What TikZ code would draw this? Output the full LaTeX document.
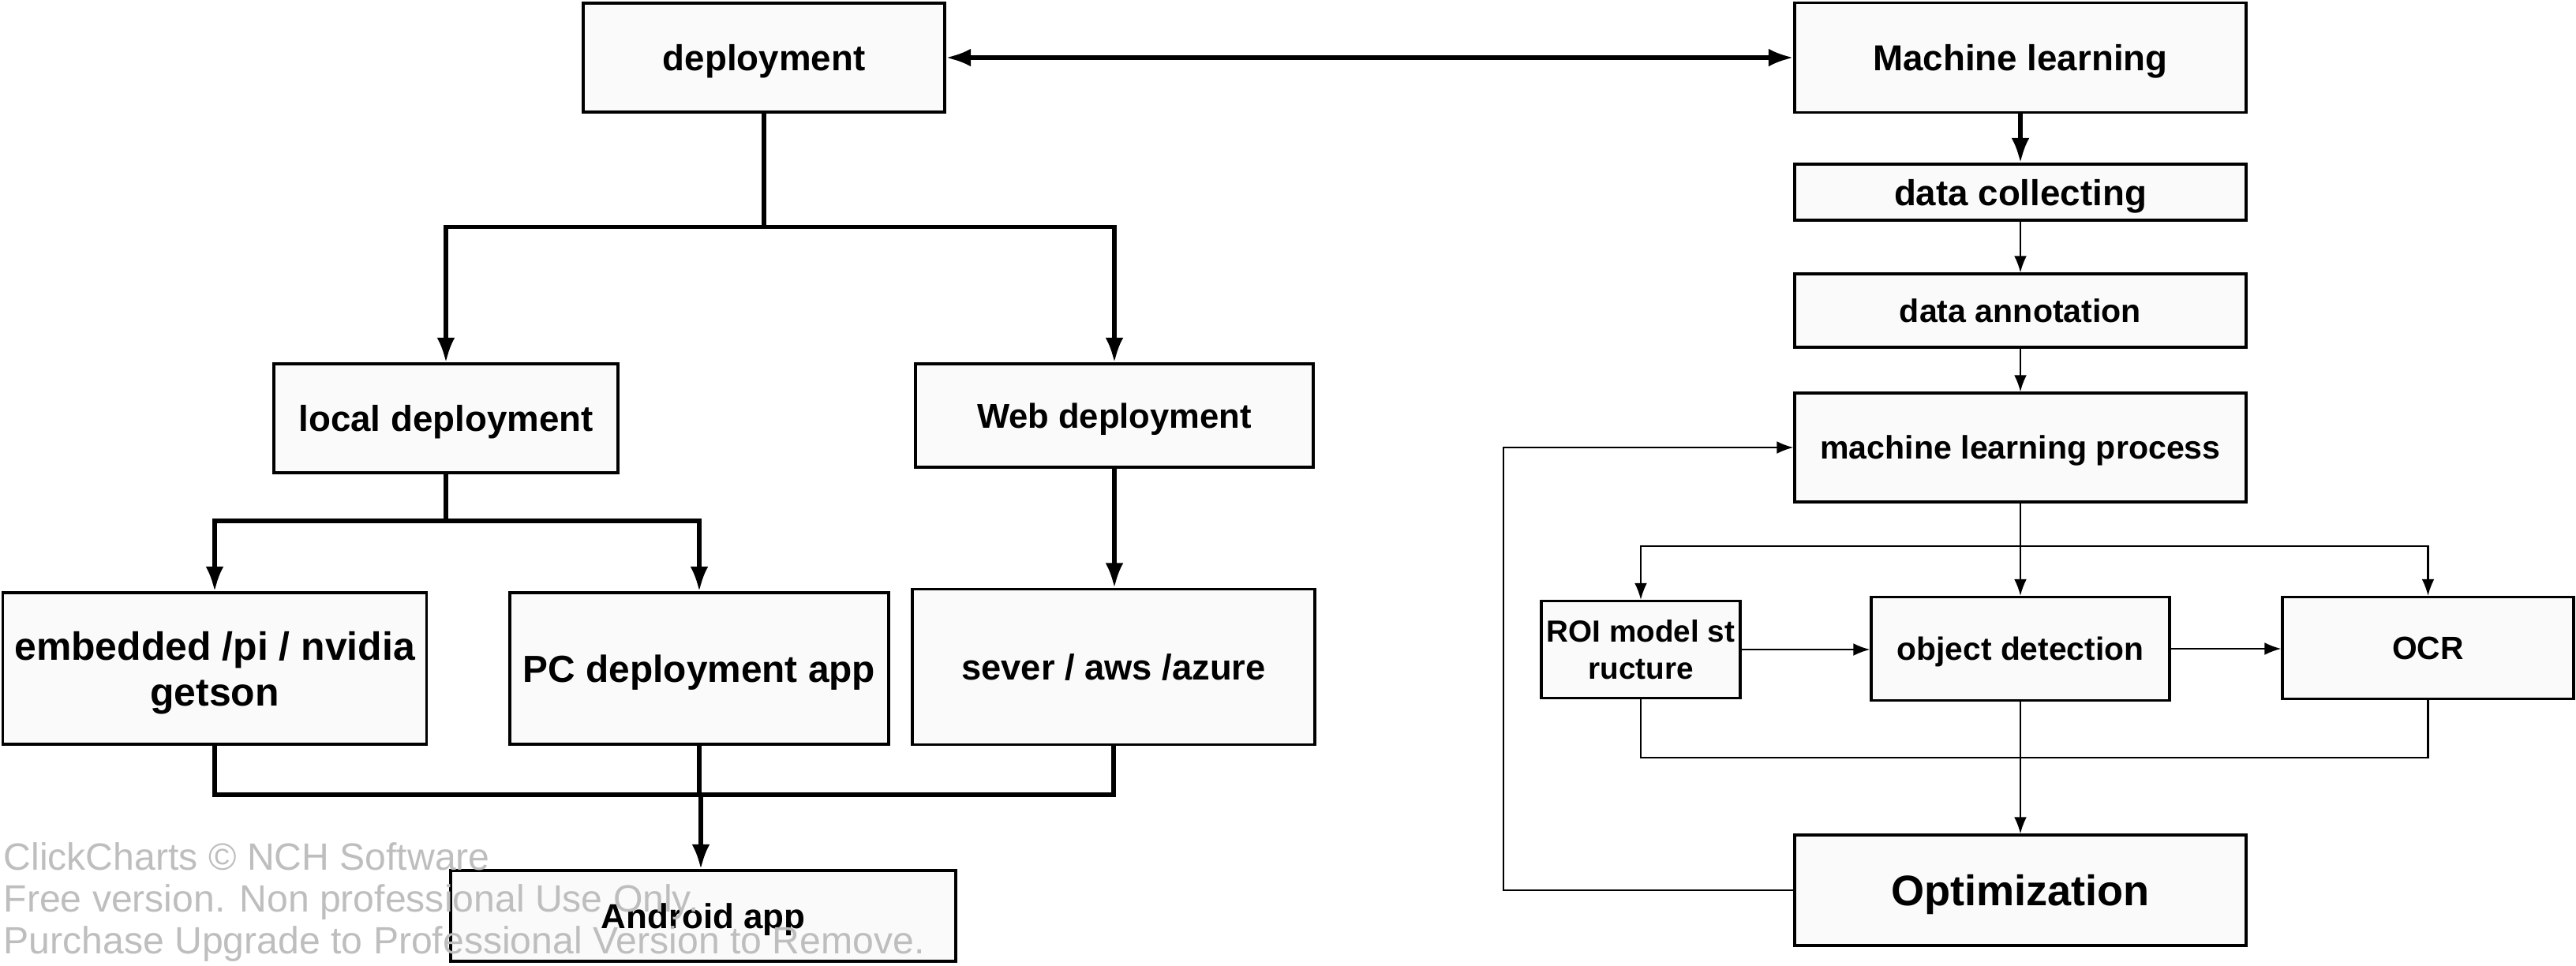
\documentclass[tikz,border=0pt]{standalone}
\usepackage{fontspec}
\setmainfont{Liberation Sans}
\usepackage{xcolor}
\usetikzlibrary{arrows.meta}
\definecolor{box_fill}{HTML}{FAFAFA}
\definecolor{mark_gray}{HTML}{BEBEBE}
\newcommand{\fsz}[2]{\fontsize{#1}{#2}\selectfont}
\tikzset{
  box/.style={draw,line width=0.9pt,fill=box_fill,inner sep=0pt,align=center,text depth=0pt},
  tree/.style={line width=1.5pt},
  treearr/.style={tree,-{Latex[length=9pt,width=6.5pt]}},
  flow/.style={line width=0.6pt},
  flowarr/.style={flow,-{Latex[length=6pt,width=4.5pt]}},
  wmark/.style={anchor=base west,inner sep=0pt,text=mark_gray,font=\fsz{13.7}{16}}
}

\begin{document}
\begin{tikzpicture}
    \useasboundingbox (0,0) rectangle (32.64,-12.23);
    \node[box,minimum width=4.58cm,minimum height=1.38cm,font=\bfseries\fsz{13}{15.6}] (dep) at (9.68,-0.73) {deployment};
    \node[box,minimum width=5.72cm,minimum height=1.39cm,font=\bfseries\fsz{13}{15.6}] (ml) at (25.60,-0.73) {Machine learning};
    \node[box,minimum width=5.72cm,minimum height=0.71cm,font=\bfseries\fsz{13}{15.6}] (coll) at (25.60,-2.435) {data collecting};
    \node[box,minimum width=5.72cm,minimum height=0.93cm,font=\bfseries\fsz{11.7}{14}] (annot) at (25.60,-3.935) {data annotation};
    \node[box,minimum width=5.72cm,minimum height=1.38cm,font=\bfseries\fsz{11.7}{14}] (proc) at (25.60,-5.67) {machine learning process};
    \node[box,minimum width=2.52cm,minimum height=1.23cm,font=\bfseries\fsz{11}{13.6}] (roi) at (20.79,-8.23) {ROI model st\\ructure};
    \node[box,minimum width=3.78cm,minimum height=1.31cm,font=\bfseries\fsz{11.6}{14}] (obj) at (25.60,-8.22) {object detection};
    \node[box,minimum width=3.69cm,minimum height=1.29cm,font=\bfseries\fsz{11.6}{14}] (ocr) at (30.765,-8.21) {OCR};
    \node[box,minimum width=5.72cm,minimum height=1.40cm,font=\bfseries\fsz{15.4}{18}] (opt) at (25.60,-11.28) {Optimization};
    \node[box,minimum width=4.36cm,minimum height=1.38cm,font=\bfseries\fsz{13}{15.6}] (loc) at (5.65,-5.30) {local deployment};
    \node[box,minimum width=5.04cm,minimum height=1.31cm,font=\bfseries\fsz{12.4}{15}] (web) at (14.12,-5.265) {Web deployment};
    \node[box,minimum width=5.37cm,minimum height=1.92cm,font=\bfseries\fsz{14.2}{16.5}] (emb) at (2.72,-8.47) {embedded /pi / nvidia\\getson};
    \node[box,minimum width=4.80cm,minimum height=1.92cm,font=\bfseries\fsz{13.6}{16}] (pc) at (8.86,-8.47) {PC deployment app};
    \node[box,minimum width=5.10cm,minimum height=1.97cm,font=\bfseries\fsz{12.9}{15.5}] (srv) at (14.11,-8.45) {sever / aws /azure};
    \node[box,minimum width=6.40cm,minimum height=1.15cm,font=\bfseries\fsz{12.5}{15}] (andr) at (8.91,-11.605) {Android app};
    \coordinate (m1) at (8.88,-10.07);
    \coordinate (m2) at (25.60,-9.60);
    \draw[tree,{Latex[length=9pt,width=6.5pt]}-{Latex[length=9pt,width=6.5pt]}] (dep.east) -- (ml.west);
    \draw[treearr] (dep.south) -- ++(0,-1.44) -| (loc.north);
    \draw[treearr] (dep.south) -- ++(0,-1.44) -| (web.north);
    \draw[treearr] (loc.south) -- ++(0,-0.595) -| (emb.north);
    \draw[treearr] (loc.south) -- ++(0,-0.595) -| (pc.north);
    \draw[treearr] (web.south) -- (web.south |- srv.north);
    \draw[tree] (emb.south) |- (m1) -| (srv.south);
    \draw[tree] (pc.south) -- (pc.south |- m1);
    \draw[treearr] (m1) -- (m1 |- andr.north);
    \draw[treearr] (ml.south) -- (coll.north);
    \draw[flowarr] (coll.south) -- (annot.north);
    \draw[flowarr] (annot.south) -- (proc.north);
    \draw[flowarr] (proc.south) -- ++(0,-0.54) -| (roi.north);
    \draw[flowarr] (proc.south) -- ++(0,-0.54) -| (ocr.north);
    \draw[flowarr] (proc.south) -- (obj.north);
    \draw[flowarr] (roi.east) -- (roi.east -| obj.west);
    \draw[flowarr] (obj.east) -- (obj.east -| ocr.west);
    \draw[flow] (roi.south) |- (m2) -| (ocr.south);
    \draw[flowarr] (obj.south) -- (opt.north);
    \draw[flowarr] (opt.west) -- ++(-3.67,0) |- (proc.west);
    \node[wmark] (wm1) at (0.04,-11.02) {ClickCharts © NCH Software};
    \node[wmark] (wm2) at (0.04,-11.55) {Free version. Non professional Use Only.};
    \node[wmark] (wm3) at (0.04,-12.08) {Purchase Upgrade to Professional Version to Remove.};
\end{tikzpicture}
\end{document}
